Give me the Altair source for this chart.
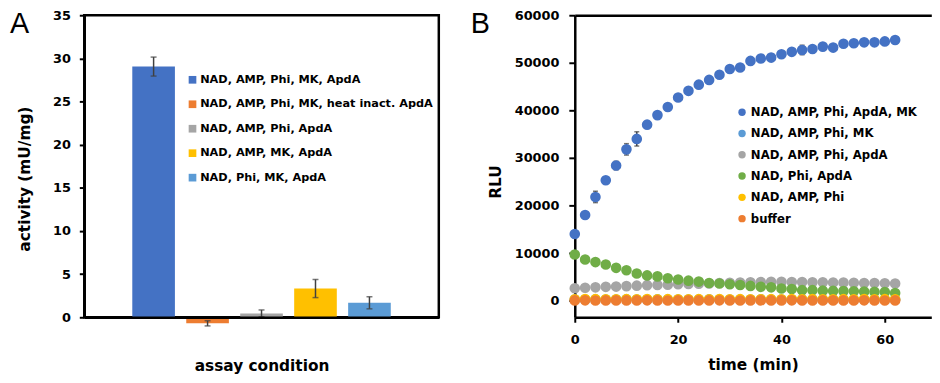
import altair as alt
import pandas as pd

# ---------------- Panel A data ----------------
conditions = [
    "NAD, AMP, Phi, MK, ApdA",
    "NAD, AMP, Phi, MK, heat inact. ApdA",
    "NAD, AMP, Phi, ApdA",
    "NAD, AMP, MK, ApdA",
    "NAD, Phi, MK, ApdA",
]
activity = [29.05, -0.7, 0.45, 3.33, 1.68]
activity_err = [1.1, 0.3, 0.4, 1.05, 0.7]
bar_colors = ["#4472C4", "#ED7D31", "#A5A5A5", "#FFC000", "#5B9BD5"]
y_ticks_a = [0, 5, 10, 15, 20, 25, 30, 35]

# ---------------- Panel B data ----------------
time_min = [0, 2, 4, 6, 8, 10, 12, 14, 16, 18, 20, 22, 24, 26, 28, 30,
            32, 34, 36, 38, 40, 42, 44, 46, 48, 50, 52, 54, 56, 58, 60, 62]
series_names = [
    "NAD, AMP, Phi, ApdA, MK",
    "NAD, AMP, Phi, MK",
    "NAD, AMP, Phi, ApdA",
    "NAD, Phi, ApdA",
    "NAD, AMP, Phi",
    "buffer",
]
series_colors = ["#4472C4", "#5B9BD5", "#A5A5A5", "#70AD47", "#FFC000", "#ED7D31"]
rlu_full = [14000, 18000, 21800, 25300, 28400, 31800, 34000, 37000, 39000, 40700,
            42700, 44100, 45400, 46400, 47500, 48700, 49000, 50400, 50900, 51100,
            51800, 52300, 52700, 52900, 53400, 53200, 54000, 54100, 54300, 54300,
            54500, 54800]
rlu_full_err = [300, 500, 1200, 600, 900, 1200, 1500, 700, 600, 500,
                500, 400, 400, 300, 300, 300, 300, 300, 300, 300,
                300, 300, 1000, 300, 300, 300, 300, 300, 300, 300,
                300, 300]
rlu_no_apda = [250, 230, 260, 240, 250, 270, 240, 250, 260, 240,
               250, 230, 250, 260, 240, 250, 250, 240, 260, 250,
               240, 250, 260, 250, 240, 250, 260, 240, 250, 250,
               240, 250]
rlu_no_mk = [2600, 2700, 2800, 2900, 2950, 3050, 3150, 3250, 3300, 3350,
             3450, 3500, 3550, 3600, 3700, 3750, 3800, 3850, 3900, 3950,
             3950, 3900, 3900, 3850, 3850, 3800, 3800, 3750, 3700, 3700,
             3650, 3600]
rlu_no_amp = [9700, 8650, 8100, 7600, 6900, 6400, 5700, 5300, 5100, 4700,
              4450, 4200, 4000, 3700, 3600, 3450, 3300, 3100, 2900, 2800,
              2550, 2450, 2200, 2200, 2100, 2050, 2000, 1950, 1900, 1850,
              1800, 1600]
rlu_substrates = [300, 320, 310, 300, 290, 310, 300, 320, 300, 310,
                  300, 290, 310, 300, 320, 300, 310, 300, 290, 310,
                  300, 320, 300, 310, 300, 290, 310, 300, 320, 300,
                  310, 300]
rlu_buffer = [50, 60, 40, 50, 55, 45, 50, 60, 50, 40,
              50, 55, 45, 50, 60, 50, 40, 50, 55, 45,
              50, 60, 50, 40, 50, 55, 45, 50, 60, 50,
              40, 50]
y_ticks_b = [0, 10000, 20000, 30000, 40000, 50000, 60000]
x_ticks_b = [0, 20, 40, 60]

FONT = "DejaVu Sans"
AXIS_COLOR = "black"
ERR_COLOR = "#404040"

# ---------------- Panel A chart ----------------
dfA = pd.DataFrame({"condition": conditions, "activity": activity, "err": activity_err})
dfA["lo"] = dfA["activity"] - dfA["err"]
dfA["hi"] = dfA["activity"] + dfA["err"]

xA = alt.X(
    "condition:N",
    sort=conditions,
    scale=alt.Scale(paddingInner=0.21, paddingOuter=0.89),
    axis=alt.Axis(labels=False, ticks=False, title="assay condition",
                  domainWidth=2.5, titleY=53.5, titleBaseline="alphabetic", zindex=1),
)
yA_axis = alt.Axis(values=y_ticks_a, title="activity (mU/mg)", tickSize=5,
                   labelPadding=9, titleX=-55, titleY=165, titleBaseline="alphabetic",
                   titleAlign="center", zindex=1)
yA = alt.Y("activity:Q", scale=alt.Scale(domain=[0, 35], nice=False), axis=yA_axis)

bars = alt.Chart(dfA).mark_bar().encode(
    x=xA,
    y=yA,
    color=alt.Color(
        "condition:N",
        sort=conditions,
        scale=alt.Scale(domain=conditions, range=bar_colors),
        legend=alt.Legend(orient="none", legendX=103.6, legendY=59.5, title=None,
                          symbolType="square", symbolSize=60, symbolStrokeWidth=0,
                          labelFontSize=11.4, rowPadding=11.7, labelOffset=2, padding=0,
                          labelLimit=400),
    ),
)
errA = alt.Chart(dfA).mark_rule(color=ERR_COLOR, strokeWidth=1.5).encode(
    x=xA, y=alt.Y("lo:Q"), y2="hi:Q")
capA_lo = alt.Chart(dfA).mark_tick(color=ERR_COLOR, thickness=1.5, size=6).encode(
    x=xA, y=alt.Y("lo:Q"))
capA_hi = alt.Chart(dfA).mark_tick(color=ERR_COLOR, thickness=1.5, size=6).encode(
    x=xA, y=alt.Y("hi:Q"))
labelA = alt.Chart(pd.DataFrame({"panel": ["A"]})).mark_text(
    font="Liberation Sans", fontSize=29, fontWeight="normal", align="left",
    baseline="top", color="black").encode(
    text="panel:N", x=alt.value(-75), y=alt.value(-5))

chartA = alt.layer(bars, errA, capA_lo, capA_hi, labelA).properties(
    width=358, height=305,
    view=alt.ViewBackground(stroke="black", strokeWidth=2.5),
)

# ---------------- Panel B chart ----------------
rows = []
for name, vals in zip(series_names, [rlu_full, rlu_no_apda, rlu_no_mk, rlu_no_amp,
                                     rlu_substrates, rlu_buffer]):
    for t, v in zip(time_min, vals):
        rows.append({"series": name, "time": t, "rlu": v})
dfB = pd.DataFrame(rows)
dfErr = pd.DataFrame({"time": time_min, "rlu": rlu_full, "err": rlu_full_err})
dfErr["lo"] = dfErr["rlu"] - dfErr["err"]
dfErr["hi"] = dfErr["rlu"] + dfErr["err"]

xB = alt.X("time:Q", scale=alt.Scale(domain=[0, 69], nice=False),
           axis=alt.Axis(values=x_ticks_b, title="time (min)", tickSize=5,
                         labelPadding=11, titleY=53, titleBaseline="alphabetic",
                         labelFlush=False, orient="bottom"))
yB_scale = alt.Scale(domain=[-3500, 60000], nice=False, zero=False)
yB_axis = alt.Axis(values=y_ticks_b, format="d", title="RLU", tickSize=6,
                   labelPadding=10, titleX=-75, titleY=168,
                   titleBaseline="alphabetic", titleAlign="center")

errB = alt.Chart(dfErr).mark_rule(color=ERR_COLOR, strokeWidth=1.5).encode(
    x=xB, y=alt.Y("lo:Q", scale=yB_scale, axis=yB_axis), y2="hi:Q")
capB_lo = alt.Chart(dfErr).mark_tick(color=ERR_COLOR, thickness=1.5, size=5,
                                     orient="horizontal").encode(
    x=xB, y=alt.Y("lo:Q", scale=yB_scale, axis=yB_axis))
capB_hi = alt.Chart(dfErr).mark_tick(color=ERR_COLOR, thickness=1.5, size=5,
                                     orient="horizontal").encode(
    x=xB, y=alt.Y("hi:Q", scale=yB_scale, axis=yB_axis))
points = alt.Chart(dfB).mark_circle(size=115, opacity=1).encode(
    x=xB,
    y=alt.Y("rlu:Q", scale=yB_scale, axis=yB_axis),
    color=alt.Color(
        "series:N",
        sort=series_names,
        scale=alt.Scale(domain=series_names, range=series_colors),
        legend=alt.Legend(orient="none", legendX=163, legendY=92, title=None,
                          symbolType="circle", symbolSize=56, symbolStrokeWidth=0,
                          labelFontSize=11.8, rowPadding=8.5, labelOffset=3, padding=0,
                          labelLimit=400),
    ),
)
labelB = alt.Chart(pd.DataFrame({"panel": ["B"]})).mark_text(
    font="Liberation Sans", fontSize=29, fontWeight="normal", align="left",
    baseline="top", color="black").encode(
    text="panel:N", x=alt.value(-105), y=alt.value(-5))

inner_b = alt.layer(errB, capB_lo, capB_hi, points, labelB)
frame_top = alt.Chart(dfB).mark_rule(opacity=0).encode(
    x=alt.X("time:Q", axis=alt.Axis(orient="top", labels=False, ticks=False,
                                    title=None, domainWidth=2.5)))

chartB = alt.layer(inner_b, frame_top).resolve_axis(x="independent").properties(
    width=360, height=305,
    view=alt.ViewBackground(stroke="transparent"),
)

chart = alt.hconcat(chartA, chartB, spacing=137.3, bounds="flush").resolve_scale(
    color="independent"
).properties(
    padding={"left": 0, "top": -2.5, "right": 0, "bottom": 0}
).configure(font=FONT).configure_axis(
    labelFont=FONT, labelFontWeight="bold", labelFontSize=13, labelColor="black",
    titleFont=FONT, titleFontWeight="bold", titleFontSize=15.5, titleColor="black",
    tickColor=AXIS_COLOR, tickWidth=2, domainColor=AXIS_COLOR, domainWidth=2.5,
    grid=False,
).configure_legend(
    labelFont=FONT, labelFontWeight="bold", labelColor="black",
).configure_view(stroke="transparent")

chart.save("out.html", embed_options={"renderer": "svg", "actions": False})
